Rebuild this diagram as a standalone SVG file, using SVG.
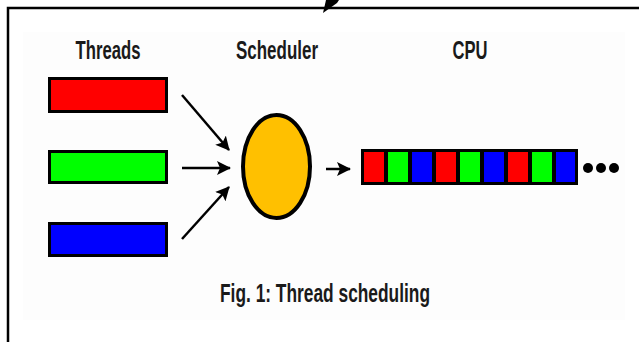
<svg xmlns="http://www.w3.org/2000/svg" width="639" height="342" viewBox="0 0 639 342">
<defs>
<style>
.lbl{font-family:"Liberation Sans",Arial,sans-serif;font-size:26px;font-weight:bold;fill:#1a1a1a}
.bar{stroke:#000;stroke-width:3}
.cell{stroke:#000;stroke-width:2}
.conn{stroke:#000;stroke-width:2.5;fill:none}
</style>
<marker id="ah" markerUnits="userSpaceOnUse" markerWidth="14" markerHeight="14" viewBox="0 0 14 14" refX="13" refY="7" orient="auto">
<path d="M0,0 L14,7 L0,14 L3,7 Z" fill="#000"/>
</marker>
</defs>
<rect x="0" y="0" width="639" height="342" fill="#fff"/>
<rect x="23" y="32" width="602" height="288" fill="#fdfdfd"/>
<g id="frame">
<path d="M8,342 L8,8 L639,8" fill="none" stroke="#000" stroke-width="2.5"/>
</g>
<g id="labels">
<text class="lbl" x="108" y="59" text-anchor="middle" textLength="65" lengthAdjust="spacingAndGlyphs">Threads</text>
<text class="lbl" x="277" y="59" text-anchor="middle" textLength="82" lengthAdjust="spacingAndGlyphs">Scheduler</text>
<text class="lbl" x="470" y="59" text-anchor="middle" textLength="35" lengthAdjust="spacingAndGlyphs">CPU</text>
<text class="lbl" x="220" y="302" textLength="210" lengthAdjust="spacingAndGlyphs">Fig. 1: Thread scheduling</text>
</g>
<g id="thread-red"><rect class="bar" x="49.5" y="78.5" width="117" height="33" fill="#ff0000"/></g>
<g id="thread-green"><rect class="bar" x="49.5" y="151.5" width="117" height="31" fill="#00ff00"/></g>
<g id="thread-blue"><rect class="bar" x="49.5" y="223.5" width="117" height="32" fill="#0000ff"/></g>
<g id="scheduler"><ellipse cx="276.5" cy="166.5" rx="33.5" ry="51.5" fill="#ffc000" stroke="#000" stroke-width="4"/></g>
<g id="cpu">
<rect x="361" y="149" width="217" height="36" fill="#000"/>
<rect class="cell" x="363" y="151" width="22" height="32" fill="#ff0000"/>
<rect class="cell" x="387" y="151" width="22" height="32" fill="#00ff00"/>
<rect class="cell" x="411" y="151" width="22" height="32" fill="#0000ff"/>
<rect class="cell" x="435" y="151" width="22" height="32" fill="#ff0000"/>
<rect class="cell" x="459" y="151" width="22" height="32" fill="#00ff00"/>
<rect class="cell" x="483" y="151" width="22" height="32" fill="#0000ff"/>
<rect class="cell" x="507" y="151" width="22" height="32" fill="#ff0000"/>
<rect class="cell" x="531" y="151" width="22" height="32" fill="#00ff00"/>
<rect class="cell" x="555" y="151" width="21" height="32" fill="#0000ff"/>
<circle cx="588" cy="168" r="5" fill="#000"/>
<circle cx="601" cy="168" r="5" fill="#000"/>
<circle cx="614" cy="168" r="5" fill="#000"/>
</g>
<g id="connectors">
<line class="conn" x1="182" y1="95" x2="229" y2="150" marker-end="url(#ah)"/>
<line class="conn" x1="182" y1="168" x2="230" y2="168" marker-end="url(#ah)"/>
<line class="conn" x1="182" y1="239" x2="229" y2="187" marker-end="url(#ah)"/>
<line class="conn" x1="326" y1="169" x2="350" y2="169" marker-end="url(#ah)"/>
<path d="M323,13 L326,0 L339,0 L337,3 Z" fill="#000"/>
</g>
</svg>
